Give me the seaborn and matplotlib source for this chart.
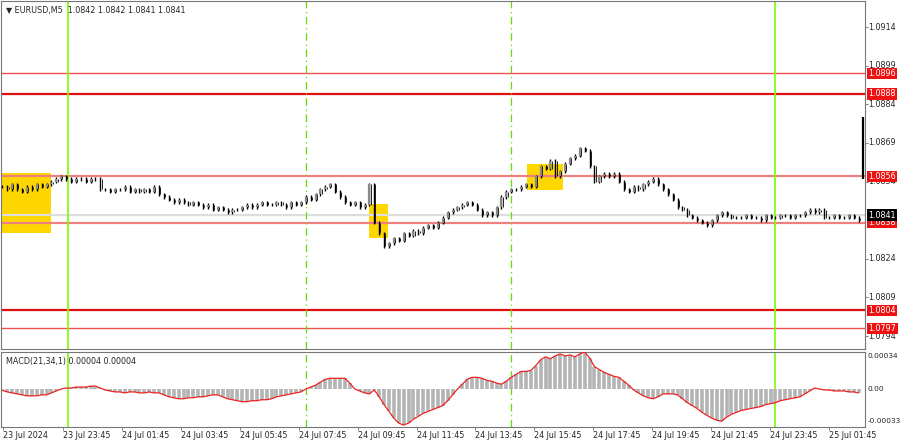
import numpy as np
import pandas as pd
import matplotlib
matplotlib.use("Agg")
import matplotlib.pyplot as plt
import seaborn as sns

closes = [1.0852,1.0851,1.0853,1.0851,1.0850,1.0852,1.0851,1.0853,1.0852,1.0853,1.0854,
 1.0855,1.0856,1.0855,1.0854,1.0855,1.0855,1.0854,1.0855,1.0855,
 1.0851,1.0851,1.0850,1.0851,1.0851,1.0852,1.0850,1.0851,1.0850,1.0851,1.0850,1.0852,1.0849,1.0848,
 1.0847,1.0846,1.0847,1.0846,1.0845,1.0846,1.0845,1.0844,1.0845,1.0843,1.0844,1.0843,1.0842,1.0843,
 1.0843,1.0844,1.0845,1.0844,1.0845,1.0846,1.0845,1.0845,1.0846,1.0845,1.0844,1.0846,1.0845,1.0846,
 1.0848,1.0847,1.0849,1.0851,1.0852,1.0853,
 1.0850,1.0848,1.0846,1.0845,1.0846,1.0844,1.0845,
 1.0853,1.0838,1.0834,1.0829,1.0830,1.0832,1.0831,1.0834,1.0833,1.0835,1.0834,1.0836,1.0837,1.0836,1.0838,1.0840,1.0842,
 1.0843,1.0844,1.0845,1.0846,1.0845,1.0843,1.0841,1.0842,1.0841,1.0844,
 1.0848,1.0850,1.0851,1.0851,1.0852,1.0853,1.0852,1.0856,
 1.0860,1.0859,1.0862,1.0856,1.0858,1.0861,1.0863,
 1.0864,1.0867,1.0866,1.0860,1.0854,1.0856,1.0857,1.0856,1.0857,1.0854,1.0851,1.0850,1.0852,1.0851,
 1.0853,1.0854,1.0855,1.0853,1.0851,1.0849,1.0847,1.0844,1.0843,1.0841,1.0840,1.0839,1.0838,1.0837,
 1.0839,1.0841,1.0842,1.0841,1.0840,1.0840,
 1.0840,1.0841,1.0840,1.0840,1.0839,1.0841,1.0840,1.0840,1.0841,1.0841,1.0840,1.0841,1.0841,
 1.0842,1.0843,1.0842,1.0843,
 1.0840,1.0840,1.0841,1.0840,1.0840,1.0841,1.0840,1.0839]
last_bar = (1.0879, 1.0855)  # high, low of final spike bar

macd = [-0.000015,-0.00003,-0.00004,-0.00005,-0.00006,-0.00007,-0.00007,
 -0.00007,-0.00006,-0.00006,-0.00004,-0.00002,0.0,0.00001,
 0.00001,0.00002,0.00002,0.00002,0.00003,0.00003,
 0.00001,-0.00001,-0.00002,-0.00003,
 -0.00003,-0.00004,-0.00003,-0.00003,-0.00004,-0.00004,-0.00003,-0.00004,-0.00004,
 -0.00006,-0.00008,-0.00009,-0.0001,
 -0.0001,-0.00009,-0.00009,-0.00008,-0.00008,-0.00007,-0.00006,-0.00006,
 -0.00008,-0.0001,-0.00011,-0.00012,-0.00013,
 -0.00013,-0.00012,-0.00012,-0.00011,-0.00011,-0.0001,
 -0.00008,-0.00007,-0.00006,-0.00005,-0.00004,-0.00003,
 0.0,0.00002,0.00004,0.00007,0.0001,0.00011,
 0.00011,0.00011,0.00011,0.00006,0.0,
 -0.00002,-0.00004,-0.00005,-0.00001,
 -0.00008,-0.00016,-0.00023,-0.0003,-0.00035,-0.00037,
 -0.00035,-0.00031,-0.00028,-0.00025,
 -0.00023,-0.00021,-0.00019,-0.00017,-0.00012,-0.00006,0.0,
 0.00005,0.0001,0.00012,
 0.00012,0.00011,0.00009,0.00008,0.00006,0.00005,
 0.00008,0.00012,0.00015,0.00018,
 0.00018,0.00019,0.00024,0.0003,0.00033,
 0.00031,0.00034,0.00036,0.00034,0.00035,0.00033,0.00036,0.00038,
 0.00032,0.00023,0.0002,0.00017,0.00015,0.00013,0.00012,
 0.00008,0.00004,-0.00001,-0.00004,-0.00007,-0.00009,-0.0001,
 -0.00008,-0.00005,-0.00005,-0.00005,-0.00006,
 -0.0001,-0.00014,-0.00017,-0.0002,-0.00024,-0.00027,-0.0003,-0.00032,-0.00033,
 -0.00029,-0.00026,-0.00024,-0.00022,-0.00021,-0.0002,-0.00019,-0.00018,-0.00016,-0.00015,
 -0.00014,-0.00012,-0.00011,-0.0001,-0.00009,-0.00008,-0.00005,-0.00002,0.00001,
 0.0,-0.00001,-0.00001,-0.00002,-0.00002,-0.00002,-0.00003,-0.00003,-0.00004]

levels_thin = [1.0896, 1.0797]
levels_thick = [1.0888, 1.0804]
levels_light = [1.0856, 1.0838]
bid = 1.0841
price_ticks = [1.0914, 1.0899, 1.0884, 1.0869, 1.0854, 1.0824, 1.0809, 1.0794]
boxes = [(0, 50, 1.08339, 1.08575), (368, 387, 1.08319, 1.08451), (527, 563, 1.08509, 1.08610)]
green_solid = [67, 775]
green_dash = [305, 511]
date_labels = ["23 Jul 2024", "23 Jul 23:45", "24 Jul 01:45", "24 Jul 03:45", "24 Jul 05:45",
               "24 Jul 07:45", "24 Jul 09:45", "24 Jul 11:45", "24 Jul 13:45", "24 Jul 15:45",
               "24 Jul 17:45", "24 Jul 19:45", "24 Jul 21:45", "24 Jul 23:45", "25 Jul 01:45"]
date_pos = [2, 62, 121, 180, 239, 298, 357, 416, 475, 534, 593, 652, 711, 770, 829]

sns.set_style("white")
plt.rcParams['font.family'] = ['DejaVu Sans']
FS = 5.8
fig = plt.figure(figsize=(9, 4.41), dpi=100)
W, H = 900, 441
XR = 865
ax = fig.add_axes([1/W, 1 - 349/H, (XR-1)/W, 348/H])
ax2 = fig.add_axes([1/W, 1 - 427/H, (XR-1)/W, 75/H])
for a in (ax, ax2):
    for s in a.spines.values():
        s.set_color('#777777'); s.set_linewidth(0.8)
    a.set_xlim(0, XR)
    a.set_xticks([]); a.set_yticks([])

n = len(closes)
step = 862 / n
xs = np.arange(n) * step + 1.5
opens = [closes[0]] + closes[:-1]
highs = [max(o, c) + 0.00006 for o, c in zip(opens, closes)]
lows = [min(o, c) - 0.00006 for o, c in zip(opens, closes)]

ax.set_ylim(1.07890, 1.09241)
for (x0, x1, y0, y1) in boxes:
    ax.add_patch(plt.Rectangle((x0, y0), x1 - x0, y1 - y0, color='#FFD700', zorder=1, lw=0))
ax.axhline(bid, color='#dddddd', lw=1.5, zorder=1)
for v in levels_thin:
    ax.axhline(v, color='#f05050', lw=1, zorder=2)
for v in levels_thick:
    ax.axhline(v, color='#e01010', lw=1.6, zorder=2)
for v in levels_light:
    ax.axhline(v, color='#f08080', lw=1.6, zorder=2)
for a in (ax, ax2):
    for v in green_solid:
        a.axvline(v, color='#7CFC00', lw=1.2, zorder=2)
    for v in green_dash:
        a.axvline(v, color='#66dd00', lw=0.9, ls=(0, (6, 3, 1, 3)), zorder=2)

up = [c >= o for o, c in zip(opens, closes)]
ax.vlines(xs, lows, highs, color='black', lw=1.0, zorder=3)
ax.vlines(xs + 1.2, opens, closes, color='black', lw=0.6, zorder=3)
ax.vlines([x for x, u in zip(xs, up) if u], [min(o, c) for o, c, u in zip(opens, closes, up) if u],
          [max(o, c) for o, c, u in zip(opens, closes, up) if u], color='#888888', lw=1.6, zorder=4)
ax.vlines([862.5], [last_bar[1]], [last_bar[0]], color='black', lw=1.6, zorder=3)

tr = ax.get_yaxis_transform()
for t in price_ticks:
    ax.text(1.004, t, "1.%04d" % round((t - 1) * 10000), transform=tr, fontsize=FS, va='center',
            ha='left', clip_on=False)
    ax.plot([1.0, 1.003], [t, t], transform=tr, color='#777777', lw=0.6, clip_on=False)
for v in levels_thin + levels_thick + levels_light:
    ax.text(1.004, v, "1.%04d" % round((v - 1) * 10000), transform=tr, fontsize=FS, va='center',
            ha='left', color='white', clip_on=False, zorder=6,
            bbox=dict(boxstyle='square,pad=0.15', fc='#ee1111', ec='none'))
ax.text(1.004, bid, "1.0841", transform=tr, fontsize=FS, va='center', ha='left', color='white',
        clip_on=False, zorder=6, bbox=dict(boxstyle='square,pad=0.15', fc='black', ec='none'))
ax.text(0.006, 0.985, "\u25BC EURUSD,M5  1.0842 1.0842 1.0841 1.0841", transform=ax.transAxes,
        fontsize=FS, va='top', ha='left')

# MACD
df = pd.DataFrame({'x': np.arange(len(macd)) * (862 / len(macd)) + 1.5, 'macd': macd})
ax2.set_ylim(-0.00039, 0.00038)
ax2.vlines(df['x'], 0, df['macd'], color='#b4b4b4', lw=2.6, zorder=2)
sns.lineplot(data=df, x='x', y='macd', ax=ax2, color='#ee2222', lw=0.9, zorder=3)
ax2.set_xlabel(''); ax2.set_ylabel('')
ax2.set_xticks([]); ax2.set_yticks([])
tr2 = ax2.get_yaxis_transform()
for t, lab in [(0.00034, "0.00034"), (0.0, "0.00"), (-0.00033, "-0.00033")]:
    ax2.text(1.003, t, lab, transform=tr2, fontsize=5.3, va='center', ha='left', clip_on=False)
ax2.text(0.006, 0.93, "MACD(21,34,1) 0.00004 0.00004", transform=ax2.transAxes, fontsize=FS,
         va='top', ha='left')
trx = ax2.get_xaxis_transform()
for p, lab in zip(date_pos, date_labels):
    ax2.text(p, -0.05, lab, transform=trx, fontsize=FS, va='top', ha='left', clip_on=False)
    ax2.plot([p, p], [0, -0.04], transform=trx, color='#777777', lw=0.6, clip_on=False)

fig.savefig("out.png", dpi=100, facecolor='white')
